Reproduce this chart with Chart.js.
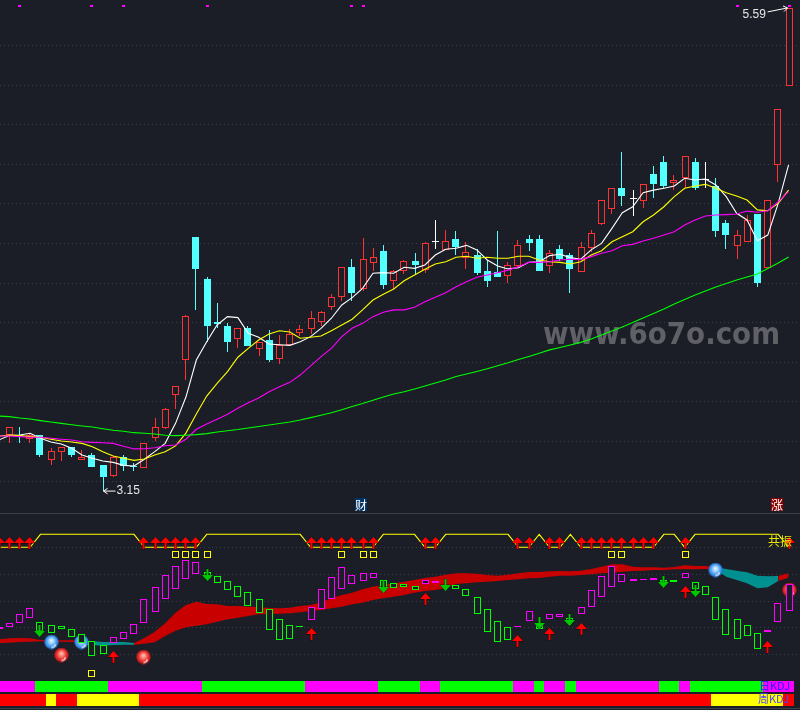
<!DOCTYPE html>
<html>
<head>
<meta charset="utf-8">
<title>K线图</title>
<script src="https://cdn.jsdelivr.net/npm/chart.js@4"></script>
<style>
    html, body { margin: 0; padding: 0; background: #1b1e27; overflow: hidden; }
    canvas { display: block; }
</style>
</head>
<body>
<canvas id="klineChart" width="800" height="710"></canvas>
<script>
// every list starts one bar left of the visible window, so index 0 is off screen
const opens = [null, 3.433, 3.433, 3.412, 3.433, 3.308, 3.349, 3.371, 3.308, 3.332, 3.282, 3.228, 3.321, 3.278, 3.268, 3.42, 3.47, 3.633, 3.81, 4.433, 4.221, 4.004, 3.984, 3.92, 3.974, 3.869, 3.913, 3.819, 3.889, 3.95, 3.97, 4.002, 4.078, 4.129, 4.282, 4.169, 4.3, 4.362, 4.209, 4.26, 4.312, 4.269, 4.411, 4.368, 4.423, 4.329, 4.342, 4.261, 4.258, 4.238, 4.288, 4.423, 4.423, 4.288, 4.372, 4.341, 4.258, 4.379, 4.5, 4.576, 4.681, 4.629, 4.617, 4.751, 4.812, 4.706, 4.73, 4.812, 4.726, 4.691, 4.504, 4.389, 4.409, 4.551, 4.278, 4.798, 5.197];
const highs = [null, 3.472, 3.474, 3.443, 3.433, 3.368, 3.371, 3.371, 3.358, 3.342, 3.282, 3.327, 3.332, 3.29, 3.391, 3.521, 3.57, 3.679, 4.039, 4.433, 4.231, 4.098, 4.0, 3.975, 3.984, 3.904, 3.964, 3.938, 3.969, 3.987, 4.059, 4.059, 4.145, 4.28, 4.322, 4.428, 4.378, 4.393, 4.266, 4.317, 4.352, 4.408, 4.519, 4.469, 4.463, 4.408, 4.372, 4.317, 4.463, 4.308, 4.418, 4.443, 4.443, 4.368, 4.393, 4.351, 4.408, 4.469, 4.618, 4.679, 4.861, 4.67, 4.699, 4.792, 4.842, 4.746, 4.841, 4.832, 4.812, 4.731, 4.519, 4.469, 4.544, 4.551, 4.618, 5.078, 5.59];
const lows = [null, 3.394, 3.394, 3.394, 3.324, 3.282, 3.303, 3.324, 3.308, 3.272, 3.15, 3.221, 3.253, 3.253, 3.268, 3.403, 3.464, 3.566, 3.711, 4.065, 3.904, 3.975, 3.854, 3.873, 3.883, 3.832, 3.803, 3.793, 3.889, 3.933, 3.945, 3.984, 4.065, 4.11, 4.111, 4.162, 4.263, 4.171, 4.169, 4.245, 4.241, 4.25, 4.372, 4.368, 4.342, 4.272, 4.243, 4.181, 4.231, 4.201, 4.277, 4.362, 4.261, 4.251, 4.313, 4.15, 4.258, 4.359, 4.494, 4.549, 4.591, 4.541, 4.581, 4.632, 4.681, 4.67, 4.681, 4.67, 4.682, 4.433, 4.372, 4.322, 4.409, 4.181, 4.278, 4.711, 5.197];
const closes = [null, 3.472, 3.428, 3.433, 3.332, 3.351, 3.371, 3.332, 3.321, 3.272, 3.221, 3.321, 3.275, 3.273, 3.391, 3.472, 3.563, 3.679, 4.034, 4.273, 3.984, 3.994, 3.903, 3.972, 3.883, 3.901, 3.812, 3.889, 3.943, 3.97, 4.023, 4.053, 4.129, 4.28, 4.152, 4.321, 4.331, 4.192, 4.26, 4.31, 4.293, 4.401, 4.411, 4.411, 4.383, 4.359, 4.251, 4.211, 4.231, 4.29, 4.391, 4.403, 4.261, 4.351, 4.321, 4.272, 4.381, 4.452, 4.618, 4.679, 4.642, 4.629, 4.699, 4.701, 4.691, 4.72, 4.841, 4.681, 4.726, 4.463, 4.443, 4.442, 4.519, 4.201, 4.618, 5.078, 5.588];

// moving averages
const maWhite = [3.408, 3.431, 3.433, 3.442, 3.417, 3.398, 3.388, 3.366, 3.332, 3.316, 3.302, 3.295, 3.28, 3.277, 3.311, 3.349, 3.391, 3.492, 3.625, 3.812, 3.904, 3.989, 4.031, 4.026, 3.947, 3.927, 3.893, 3.889, 3.886, 3.904, 3.93, 3.972, 4.023, 4.09, 4.127, 4.174, 4.25, 4.253, 4.25, 4.28, 4.275, 4.292, 4.342, 4.371, 4.376, 4.391, 4.368, 4.317, 4.287, 4.272, 4.278, 4.305, 4.308, 4.339, 4.346, 4.329, 4.321, 4.368, 4.401, 4.477, 4.556, 4.586, 4.657, 4.67, 4.679, 4.691, 4.73, 4.721, 4.726, 4.696, 4.637, 4.553, 4.519, 4.414, 4.443, 4.603, 4.797];
const maYellow = [3.428, 3.433, 3.43, 3.425, 3.422, 3.412, 3.403, 3.398, 3.391, 3.374, 3.349, 3.327, 3.316, 3.305, 3.312, 3.332, 3.349, 3.378, 3.443, 3.539, 3.63, 3.694, 3.753, 3.826, 3.871, 3.913, 3.943, 3.96, 3.953, 3.922, 3.927, 3.933, 3.96, 3.989, 4.018, 4.065, 4.115, 4.144, 4.171, 4.212, 4.241, 4.27, 4.297, 4.308, 4.331, 4.336, 4.326, 4.331, 4.326, 4.326, 4.336, 4.336, 4.317, 4.308, 4.305, 4.297, 4.308, 4.342, 4.364, 4.409, 4.435, 4.46, 4.51, 4.544, 4.586, 4.637, 4.679, 4.691, 4.699, 4.679, 4.657, 4.64, 4.62, 4.57, 4.566, 4.603, 4.67];
const maMagenta = [3.428, 3.428, 3.425, 3.422, 3.422, 3.417, 3.412, 3.408, 3.399, 3.396, 3.394, 3.391, 3.376, 3.363, 3.364, 3.369, 3.379, 3.383, 3.412, 3.462, 3.489, 3.513, 3.538, 3.568, 3.596, 3.62, 3.652, 3.677, 3.699, 3.736, 3.782, 3.829, 3.871, 3.93, 3.972, 3.997, 4.031, 4.053, 4.065, 4.065, 4.078, 4.106, 4.129, 4.152, 4.182, 4.207, 4.23, 4.241, 4.253, 4.266, 4.283, 4.305, 4.305, 4.308, 4.317, 4.321, 4.319, 4.334, 4.351, 4.364, 4.389, 4.396, 4.413, 4.427, 4.443, 4.46, 4.494, 4.519, 4.539, 4.544, 4.546, 4.549, 4.564, 4.558, 4.566, 4.611, 4.662];
const maGreen = [3.529, 3.526, 3.519, 3.514, 3.506, 3.499, 3.492, 3.485, 3.479, 3.474, 3.465, 3.457, 3.452, 3.445, 3.442, 3.438, 3.432, 3.43, 3.432, 3.435, 3.44, 3.448, 3.455, 3.461, 3.469, 3.476, 3.484, 3.491, 3.499, 3.509, 3.521, 3.533, 3.546, 3.561, 3.577, 3.592, 3.609, 3.625, 3.64, 3.652, 3.666, 3.681, 3.696, 3.711, 3.729, 3.741, 3.754, 3.768, 3.783, 3.798, 3.815, 3.83, 3.846, 3.863, 3.875, 3.888, 3.901, 3.918, 3.938, 3.958, 3.979, 4.001, 4.024, 4.047, 4.07, 4.095, 4.118, 4.14, 4.16, 4.181, 4.198, 4.216, 4.231, 4.246, 4.274, 4.302, 4.332];

const priceTicks = [5.4, 5.2, 5.0, 4.8, 4.6, 4.4, 4.2, 4.0, 3.8, 3.6, 3.4, 3.2];
const topDots = [2, 9, 12, 20, 34, 35, 71, 76];
const topDotPrice = 5.6;

// lower panel, indicator units
const indicatorTicks = [153, 126, 99, 72.5, 46];
const kdjHigh = [72.7, 77.3, 85.7, 91.7, 77.7, 74.7, 73.7, 70.7, 65.7, 58.7, 54.7, 62.7, 67.7, 75.7, 100.7, 112.7, 124.7, 133.7, 139.7, 137.7, 128, 123.7, 118.7, 113.7, 107.7, 100.7, 90.7, 80.7, 74.7, 73.7, 92.7, 110.7, 122.7, 132.7, 124.7, 126.7, 126.7, 119.7, 116.7, 115.7, 113.7, 119.7, 118.7, 115.3, 114.7, 110.7, 102.7, 90.7, 79.3, 72.7, 73.7, 88.7, 75, 85.7, 85.7, 82, 92.7, 109.7, 123.7, 133.7, 125.7, 120.7, 120.7, 121.7, 120, 119.7, 126.7, 117.7, 113.7, 102.7, 90.7, 80.7, 74.7, 66.7, 69.7, 96.7, 115.7];
const kdjLow = [71.3, 73.3, 77.3, 82.3, 69, 67.3, 70.7, 63.3, 57.3, 44.3, 45.7, 57.3, 60.7, 65.7, 77.3, 88.3, 100.7, 111.3, 120.7, 126.3, 122, 117.3, 109.7, 103.3, 94.3, 86.7, 70.5, 60.3, 61.3, 73, 80.3, 90.7, 101.3, 111.3, 115.7, 119.3, 121.7, 111.7, 111.7, 112.7, 109.7, 115.7, 116.7, 113.3, 110.7, 103.7, 85.7, 67.7, 57.7, 59.7, 73, 78.7, 71, 80.7, 82.7, 78, 85.7, 93.3, 103.3, 113.3, 117.7, 118.7, 119.7, 119.7, 118, 117.7, 121.7, 110.7, 104.7, 79.7, 65.3, 60.7, 63.7, 50.7, 67.7, 77.7, 89.3];
const dayKdjUp = [1, 1, 1, 1, 0, 0, 0, 0, 0, 0, 0, 1, 1, 1, 1, 1, 1, 1, 1, 1, 0, 0, 0, 0, 0, 0, 0, 0, 0, 0, 1, 1, 1, 1, 1, 1, 1, 0, 0, 0, 0, 1, 1, 0, 0, 0, 0, 0, 0, 0, 1, 1, 0, 1, 1, 0, 1, 1, 1, 1, 1, 1, 1, 1, 0, 0, 1, 0, 0, 0, 0, 0, 0, 0, 1, 1, 1];
const weekKdjUp = [1, 1, 1, 1, 1, 0, 1, 1, 0, 0, 0, 0, 0, 0, 1, 1, 1, 1, 1, 1, 1, 1, 1, 1, 1, 1, 1, 1, 1, 1, 1, 1, 1, 1, 1, 1, 1, 1, 1, 1, 1, 1, 1, 1, 1, 1, 1, 1, 1, 1, 1, 1, 1, 1, 1, 1, 1, 1, 1, 1, 1, 1, 1, 1, 1, 1, 1, 1, 1, 0, 0, 0, 0, 0, 0, 0, 1];
const bandHigh = [60.7, 61.7, 62, 61.7, 60, 59.7, 59.7, 59.7, 59.3, 59, 58, 58, 58, 57, 62, 68.3, 76.7, 87.3, 95, 98.3, 96, 95.7, 94, 94, 93.3, 93, 92, 91.7, 92.3, 94, 95, 97.7, 101.7, 105, 107.3, 110.7, 113.3, 115, 116.7, 118.3, 120, 122, 123.3, 125.3, 126.7, 126.7, 126.3, 125, 124.3, 125.3, 126.7, 128, 128, 128.7, 129, 128.7, 129.3, 131, 133.3, 135.7, 135.7, 133.3, 132.7, 132.7, 132.3, 133, 134.7, 134, 134, 133, 131, 129.3, 127.7, 124.3, 123.7, 124, 126.7];
const bandLow = [57, 57.3, 58, 58.3, 58.7, 58.3, 58.3, 58, 57.7, 55, 54.3, 55, 55.3, 55.3, 56.3, 57.7, 64, 69.3, 72.7, 74.3, 75.7, 78.3, 80.7, 82.3, 84, 85.7, 86, 86.3, 86.7, 87.7, 89, 90, 91.7, 93.3, 95.7, 97.3, 100, 101.7, 103.3, 105, 107.3, 109, 110, 112, 116, 116.7, 117.7, 118.3, 119, 120, 120.7, 121.7, 122, 123.3, 124.3, 124.3, 125, 125.7, 126.7, 127.3, 128.3, 129, 129.3, 130, 130, 130.7, 130.7, 130.7, 131, 130, 123.3, 120, 116.7, 111.7, 112.7, 119, 122.3];
const bandUp = [1, 1, 1, 1, 1, 1, 1, 1, 1, 0, 0, 0, 0, 0, 1, 1, 1, 1, 1, 1, 1, 1, 1, 1, 1, 1, 1, 1, 1, 1, 1, 1, 1, 1, 1, 1, 1, 1, 1, 1, 1, 1, 1, 1, 1, 1, 1, 1, 1, 1, 1, 1, 1, 1, 1, 1, 1, 1, 1, 1, 1, 1, 1, 1, 1, 1, 1, 1, 1, 1, 0, 0, 0, 0, 0, 0, 1];
const resonance = [1, 1, 1, 1, 0, 0, 0, 0, 0, 0, 0, 0, 0, 0, 1, 1, 1, 1, 1, 1, 0, 0, 0, 0, 0, 0, 0, 0, 0, 0, 1, 1, 1, 1, 1, 1, 1, 0, 0, 0, 0, 1, 1, 0, 0, 0, 0, 0, 0, 0, 1, 1, 0, 1, 1, 0, 1, 1, 1, 1, 1, 1, 1, 1, 0, 0, 1, 0, 0, 0, 0, 0, 0, 0, 0, 0, 1];
const resonanceOn = 152.7;
const resonanceOff = 165.7;
const resonanceArrow = 157;

const buyDays = [11, 30, 41, 50, 53, 56, 66, 74];
const buyLevels = [43.2, 66.3, 101, 59, 66.3, 71.3, 108.3, 53];
const sellDays = [4, 20, 37, 43, 52, 55, 64, 67];
const sellLevels = [69, 125, 113, 115, 77, 80, 118, 109];
const blueBallDays = [5, 8, 69];
const blueBallLevels = [58, 58, 130];
const redBallDays = [6, 14, 76];
const redBallLevels = [45, 43, 110];
const boxDays = [9, 17, 18, 19, 20, 33, 35, 36, 59, 60, 66];
const boxLevels = [26.3, 145.3, 145.3, 145.3, 145.3, 145.3, 145.3, 145.3, 145.3, 145.3, 145.3];

const BG = '#1b1e27';
const RED = '#ff3232';
const CYAN = '#54ffff';
const MAGENTA = '#ff00ff';
const GREEN = '#00ff00';
const YELLOW = '#ffff00';

const candleColor = j => closes[j] > opens[j] ? RED : (closes[j] < opens[j] ? CYAN : '#ffffff');
const has = j => opens[j] !== null;
const dayIndex = opens.map((_, j) => j).filter(has);
const line = values => values.map((y, x) => ({ x, y }));
const markers = (days, levels) => days.map((x, k) => ({ x, y: levels[k] }));

// sprites for the arrows and balls
function arrowSprite(color, down) {
    const c = document.createElement('canvas');
    c.width = 13;
    c.height = 14;
    const g = c.getContext('2d');
    if (down) {
        g.translate(0, 14);
        g.scale(1, -1);
    }
    g.beginPath();
    g.moveTo(6.5, 1);
    g.lineTo(12, 7);
    g.lineTo(7.5, 7);
    g.lineTo(7.5, 13);
    g.lineTo(5.5, 13);
    g.lineTo(5.5, 7);
    g.lineTo(1, 7);
    g.closePath();
    g.strokeStyle = 'rgba(0,0,0,0.65)';
    g.stroke();
    g.fillStyle = color;
    g.fill();
    return c;
}

function ballSprite(light, mid, dark) {
    const c = document.createElement('canvas');
    c.width = 15;
    c.height = 15;
    const g = c.getContext('2d');
    const grad = g.createRadialGradient(7.5, 6, 1, 7.5, 7.5, 7.5);
    grad.addColorStop(0, light);
    grad.addColorStop(0.6, mid);
    grad.addColorStop(1, dark);
    g.fillStyle = grad;
    g.beginPath();
    g.arc(7.5, 7.5, 7.2, 0, Math.PI * 2);
    g.fill();
    g.strokeStyle = 'rgba(255,255,255,0.75)';
    g.lineWidth = 1.5;
    g.beginPath();
    g.arc(7.5, 9, 4, 0.2, 1.6);
    g.stroke();
    return c;
}

const arrowUp = arrowSprite('#ff0000', false);
const arrowDown = arrowSprite('#00c800', true);
const blueBall = ballSprite('#d8f0ff', '#4aa0f0', '#1c60c0');
const redBall = ballSprite('#ffb0a0', '#e83030', '#a81010');

// candle centre on a whole pixel grid, box edges on even columns
const snapCentre = x => 2 * Math.round((x - 3.5) / 2) + 3.5;

const pixelSnap = {
    id: 'pixelSnap',
    beforeDatasetsDraw(chart) {
        chart.getSortedVisibleDatasetMetas().forEach(meta => {
            meta.data.forEach(el => {
                if (meta.type === 'bar') {
                    if (el.width > 7) {
                        const left = Math.round(el.x - el.width / 2);
                        const right = Math.round(el.x + el.width / 2);
                        el.x = (left + right) / 2;
                        el.width = right - left;
                    } else {
                        el.x = snapCentre(el.x);
                    }
                    el.y = Math.round(el.y);
                    el.base = Math.round(el.base);
                    if (el.base === el.y) {
                        el.base = el.y + 1;
                    }
                } else if (meta.controller.getDataset().showLine === false) {
                    el.x = snapCentre(el.x);
                    el.y = Math.round(el.y);
                }
            });
        });
    }
};

function pointer(ctx, x0, y0, x1, y1) {
    const a = Math.atan2(y1 - y0, x1 - x0);
    ctx.beginPath();
    ctx.moveTo(x0, y0);
    ctx.lineTo(x1, y1);
    ctx.moveTo(x1 - 5 * Math.cos(a - 0.6), y1 - 5 * Math.sin(a - 0.6));
    ctx.lineTo(x1, y1);
    ctx.lineTo(x1 - 5 * Math.cos(a + 0.6), y1 - 5 * Math.sin(a + 0.6));
    ctx.strokeStyle = '#ffffff';
    ctx.lineWidth = 1;
    ctx.stroke();
}

const decorations = {
    id: 'decorations',
    beforeDatasetsDraw(chart) {
        const ctx = chart.ctx;
        ctx.save();
        ctx.fillStyle = '#5f6166';
        ctx.font = 'bold 30px "DejaVu Sans"';
        ctx.textBaseline = 'alphabetic';
        ctx.fillText('www.6o7o.com', 543, 344, 237);
        ctx.restore();
    },
    afterDatasetsDraw(chart) {
        const ctx = chart.ctx;
        const { x, y, y2 } = chart.scales;
        ctx.save();

        // panel separators
        ctx.fillStyle = '#3a3f4a';
        ctx.fillRect(0, Math.round(y2.getPixelForValue(187.5)), 800, 1);
        ctx.fillRect(0, Math.round(y2.getPixelForValue(-8)), 800, 1);

        // high and low labels
        ctx.textBaseline = 'alphabetic';
        ctx.font = '12px "Liberation Sans"';
        ctx.fillStyle = '#e6e6e6';
        const lowX = snapCentre(x.getPixelForValue(10));
        const lowY = y.getPixelForValue(3.15);
        pointer(ctx, lowX + 12, lowY, lowX, lowY);
        ctx.fillText('3.15', lowX + 13, lowY + 3);
        const highX = x.getPixelForValue(76);
        const highY = y.getPixelForValue(5.59);
        pointer(ctx, highX - 21, highY + 4, highX - 1, highY);
        ctx.fillText('5.59', highX - 46, highY + 10);

        // tags under the candles
        ctx.font = '12px "Noto Sans CJK SC"';
        ctx.textAlign = 'center';
        ctx.textBaseline = 'middle';
        ctx.fillStyle = '#003264';
        ctx.fillRect(355, 498, 12, 13);
        ctx.fillStyle = '#ffffff';
        ctx.fillText('财', 361, 505);
        ctx.fillStyle = '#8c0000';
        ctx.fillRect(771, 498, 12, 13);
        ctx.fillStyle = '#ffffff';
        ctx.fillText('涨', 777, 505);

        // row captions
        ctx.textAlign = 'left';
        ctx.font = '12px "Noto Sans CJK SC"';
        ctx.fillStyle = '#e6e600';
        ctx.fillText('共振', 768, 541);
        ctx.font = '11px "Noto Sans CJK SC", "Liberation Sans"';
        ctx.fillStyle = '#2020ff';
        ctx.fillText('日KDJ', 759, 686);
        ctx.fillStyle = '#4848ff';
        ctx.fillText('周KDJ', 758, 699);
        ctx.restore();
    }
};

const stripRow = (flags, low, high, on, off) => ({
    type: 'bar',
    yAxisID: 'y2',
    order: 12,
    data: flags.map((f, x) => ({ x, y: [low, high] })),
    backgroundColor: flags.map(f => f ? on : off),
    borderWidth: 0,
    barThickness: 10.39,
    inflateAmount: 0
});

const maLine = (values, color) => ({
    type: 'line',
    data: line(values),
    yAxisID: 'y',
    borderColor: color,
    borderWidth: 1.1,
    pointRadius: 0,
    tension: 0,
    order: 5
});

const sprites = (data, sprite, order) => ({
    type: 'line',
    data,
    yAxisID: 'y2',
    showLine: false,
    pointStyle: sprite,
    pointRadius: 8,
    order
});

const bandPart = (values, flag) => values.map((v, j) =>
    bandUp[j] === flag || bandUp[j + 1] === flag ? v : null);

const datasets = [
    // wicks, then bodies over them
    {
        type: 'bar',
        yAxisID: 'y',
        order: 11,
        data: dayIndex.map(x => ({ x, y: [lows[x], highs[x]] })),
        backgroundColor: dayIndex.map(candleColor),
        barThickness: 1,
        borderWidth: 0,
        inflateAmount: 0
    },
    {
        type: 'bar',
        yAxisID: 'y',
        order: 10,
        data: dayIndex.map(x => ({ x, y: [opens[x], closes[x]] })),
        backgroundColor: dayIndex.map(j => closes[j] > opens[j] ? BG : candleColor(j)),
        borderColor: dayIndex.map(candleColor),
        borderWidth: 1,
        borderSkipped: false,
        barThickness: 7,
        inflateAmount: 0
    },
    maLine(maGreen, '#00ff00'),
    maLine(maMagenta, '#ff00ff'),
    maLine(maYellow, '#ffff00'),
    maLine(maWhite, '#ffffff'),
    {
        type: 'bar',
        yAxisID: 'y',
        order: 9,
        data: topDots.map(x => ({ x, y: [topDotPrice - 0.007, topDotPrice + 0.007] })),
        backgroundColor: MAGENTA,
        barThickness: 3,
        borderWidth: 0,
        inflateAmount: 0
    },

    // band of the lower panel
    { type: 'line', yAxisID: 'y2', data: line(bandPart(bandHigh, 1)), fill: '+1', backgroundColor: '#c80000', borderWidth: 0, pointRadius: 0, tension: 0, order: 14 },
    { type: 'line', yAxisID: 'y2', data: line(bandPart(bandLow, 1)), borderWidth: 0, pointRadius: 0, tension: 0, order: 14 },
    { type: 'line', yAxisID: 'y2', data: line(bandPart(bandHigh, 0)), fill: '+1', backgroundColor: '#009090', borderWidth: 0, pointRadius: 0, tension: 0, order: 14 },
    { type: 'line', yAxisID: 'y2', data: line(bandPart(bandLow, 0)), borderWidth: 0, pointRadius: 0, tension: 0, order: 14 },

    // KDJ boxes
    {
        type: 'bar',
        yAxisID: 'y2',
        order: 8,
        data: kdjHigh.map((v, x) => ({ x, y: [kdjLow[x], v] })),
        backgroundColor: BG,
        borderColor: dayKdjUp.map(f => f ? MAGENTA : GREEN),
        borderWidth: 1,
        borderSkipped: false,
        barThickness: 7,
        inflateAmount: 0
    },
    {
        type: 'bar',
        yAxisID: 'y2',
        order: 7,
        data: markers(boxDays, boxLevels).map(p => ({ x: p.x, y: [p.y - 3.5, p.y + 3.5] })),
        backgroundColor: 'rgba(0,0,0,0)',
        borderColor: YELLOW,
        borderWidth: 1,
        borderSkipped: false,
        barThickness: 7,
        inflateAmount: 0
    },
    {
        type: 'line',
        yAxisID: 'y2',
        data: line(resonance.map(f => f ? resonanceOn : resonanceOff)),
        borderColor: YELLOW,
        borderWidth: 1.1,
        pointRadius: 0,
        tension: 0,
        order: 6
    },

    sprites(markers(blueBallDays, blueBallLevels), blueBall, 9),
    sprites(markers(redBallDays, redBallLevels), redBall, 9),
    sprites(line(resonance.map(f => f ? resonanceArrow : null)), arrowUp, 4),
    sprites(markers(buyDays, buyLevels), arrowUp, 3),
    sprites(markers(sellDays, sellLevels), arrowDown, 3),

    stripRow(dayKdjUp, 8, 19, MAGENTA, GREEN),
    stripRow(weekKdjUp, -6, 6, '#ff0000', YELLOW)
];

new Chart(document.getElementById('klineChart'), {
    type: 'bar',
    data: { datasets },
    options: {
        responsive: false,
        animation: false,
        layout: { autoPadding: false, padding: 0 },
        events: [],
        datasets: { bar: { grouped: false } },
        plugins: {
            legend: { display: false },
            tooltip: { enabled: false }
        },
        scales: {
            x: {
                type: 'linear',
                min: 0.105,
                max: 77.1,
                offset: false,
                display: false
            },
            // each value axis spans the whole canvas, the panels share it
            y: {
                type: 'linear',
                min: 2.0445,
                max: 5.63,
                afterBuildTicks: axis => { axis.ticks = priceTicks.map(value => ({ value })); },
                ticks: { display: false },
                border: { display: false, dash: [1, 3] },
                grid: { color: '#3a3e47', drawTicks: false, tickLength: 0 }
            },
            y2: {
                type: 'linear',
                min: -10,
                max: 700,
                afterBuildTicks: axis => { axis.ticks = indicatorTicks.map(value => ({ value })); },
                ticks: { display: false },
                border: { display: false, dash: [1, 3] },
                grid: { color: '#3a3e47', drawTicks: false, tickLength: 0 }
            }
        }
    },
    plugins: [pixelSnap, decorations]
});
</script>
</body>
</html>
